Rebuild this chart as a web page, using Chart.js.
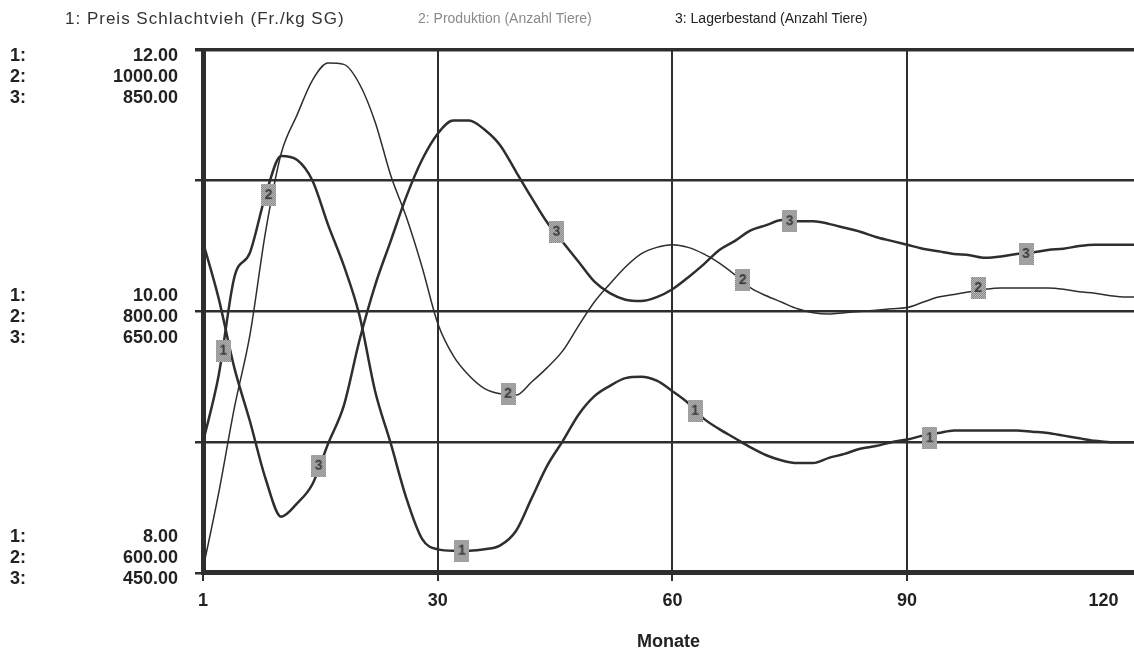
<!DOCTYPE html>
<html>
<head>
<meta charset="utf-8">
<script src="https://cdn.jsdelivr.net/npm/chart.js@4/dist/chart.umd.min.js"></script>
<style>
	body { margin: 0; background: #fff; overflow: hidden; }
	/* plot continues a little past the right edge of the picture */
	#wrap { width: 1142px; height: 653px; position: relative; }
</style>
</head>
<body>
<div id="wrap"><canvas id="myChart"></canvas></div>
<script>
// monthly readings (odd months + last month)
const months = [1,3,5,7,9,11,13,15,17,19,21,23,25,27,29,31,33,35,37,39,41,43,45,47,49,51,53,55,57,59,
	61,63,65,67,69,71,73,75,77,79,81,83,85,87,89,91,93,95,97,99,101,103,105,107,109,111,113,115,117,119,120];

// 1: Preis Schlachtvieh (Fr./kg SG)
const price = [9.00, 9.51, 10.26, 10.45, 10.89, 11.19, 11.16, 11.00, 10.66, 10.35,
	9.97, 9.39, 8.99, 8.57, 8.26, 8.18, 8.17, 8.17, 8.18, 8.21,
	8.32, 8.57, 8.82, 9.01, 9.21, 9.35, 9.43, 9.49, 9.50, 9.47,
	9.39, 9.30, 9.18, 9.10, 9.03, 8.96, 8.90, 8.86, 8.84, 8.84,
	8.88, 8.91, 8.95, 8.97, 9.00, 9.02, 9.05, 9.07, 9.09, 9.09,
	9.09, 9.09, 9.09, 9.08, 9.07, 9.05, 9.03, 9.01, 9.00, 9.00,
	9.00];

// 2: Produktion (Anzahl Tiere)
const production = [603, 661, 726, 782, 861, 921, 950, 977, 990, 989,
	974, 945, 904, 872, 834, 791, 766, 751, 741, 737,
	736, 746, 757, 770, 789, 807, 821, 834, 844, 849,
	851, 849, 844, 837, 828, 818, 812, 807, 802, 799,
	798, 799, 800, 801, 802, 803, 807, 811, 813, 815,
	817, 818, 818, 818, 818, 817, 815, 814, 812, 811,
	811];

// 3: Lagerbestand (Anzahl Tiere)
const stock = [703, 660, 607, 566, 522, 493, 503, 518, 549, 578,
	628, 670, 704, 738, 766, 786, 796, 796, 789, 777,
	757, 737, 718, 703, 688, 673, 664, 659, 658, 661,
	667, 676, 686, 697, 704, 712, 716, 720, 719, 719,
	717, 714, 711, 707, 704, 701, 698, 696, 694, 693,
	691, 692, 694, 695, 697, 698, 700, 701, 701, 701,
	701];

// curve number tags
const priceMarkX = [3.6, 34.1, 63.9, 93.9];
const priceMarkY = [9.70, 8.17, 9.24, 9.03];
const prodMarkX = [9.4, 40.0, 70.0, 100.1];
const prodMarkY = [889, 737, 824, 818];
const stockMarkX = [15.8, 46.2, 76.0, 106.2];
const stockMarkY = [532, 711, 719, 694];

const seriesNames = ['1: Preis Schlachtvieh (Fr./kg SG)', '2: Produktion (Anzahl Tiere)', '3: Lagerbestand (Anzahl Tiere)'];
const tickValues = [8, 10, 12];
const priceTicks = ['8.00', '10.00', '12.00'];
const prodTicks = ['600.00', '800.00', '1000.00'];
const stockTicks = ['450.00', '650.00', '850.00'];
const seriesPrefix = ['1:', '2:', '3:'];
const xTickPos = [1, 31, 61, 91, 116.1];
const xTickLabels = ['1', '30', '60', '90', '120'];

const FONT = '"Liberation Sans", Arial, sans-serif';
const INK = '#2e2e2e';

function pts(xs, ys){
	return xs.map((x, i) => ({x: x, y: ys[i]}));
}

// stella style: top block hangs below its tick, bottom block sits above
function block(v, lines){
	const i = tickValues.indexOf(v);
	if(i < 0) return '';
	const l = lines(i);
	if(i == 2) return ['', ''].concat(l);
	if(i == 0) return l.concat(['', '']);
	return l;
}

function marker(n){
	const c = document.createElement('canvas');
	c.width = 15;
	c.height = 22;
	const g = c.getContext('2d');
	for(let i = 0; i < c.width; i++){
		for(let j = 0; j < c.height; j++){
			g.fillStyle = (i + j) % 2 ? '#7c7c7c' : '#c6c6c6';
			g.fillRect(i, j, 1, 1);
		}
	}
	g.fillStyle = '#3a3a3a';
	g.font = 'bold 14px ' + FONT;
	g.textAlign = 'center';
	g.textBaseline = 'middle';
	g.fillText(n, 7.5, 11.5);
	return c;
}

const header = {
	id: 'header',
	afterDraw(chart){
		const ctx = chart.ctx;
		ctx.save();
		ctx.textBaseline = 'middle';
		ctx.textAlign = 'left';
		ctx.fillStyle = '#333';
		ctx.font = '17px ' + FONT;
		ctx.letterSpacing = '1px';
		ctx.fillText(seriesNames[0], 65, 19);
		ctx.letterSpacing = '0px';
		ctx.font = '14px ' + FONT;
		ctx.fillStyle = '#8a8a8a';
		ctx.fillText(seriesNames[1], 418, 19);
		ctx.fillStyle = '#222';
		ctx.fillText(seriesNames[2], 675, 19);
		ctx.restore();
	}
};

const tickFont = {family: FONT, size: 18, weight: 'bold', lineHeight: 1.17};

function line(label, data, axis, width){
	return {
		label: label,
		data: data,
		yAxisID: axis,
		borderColor: INK,
		borderWidth: width,
		pointRadius: 0,
		cubicInterpolationMode: 'monotone',
		fill: false
	};
}

function tags(data, axis, n){
	return {
		data: data,
		yAxisID: axis,
		showLine: false,
		pointStyle: marker(n),
		pointRadius: 7,
		order: -1
	};
}

function noSidePad(s){
	s.paddingLeft = 0;
	s.paddingRight = 0;
}

var ctx = document.getElementById('myChart').getContext('2d');
var myChart = new Chart(ctx, {
	type: 'line',
	data: {
		datasets: [
			line(seriesNames[0], pts(months, price), 'y', 2.5),
			line(seriesNames[1], pts(months, production), 'yProd', 1.5),
			line(seriesNames[2], pts(months, stock), 'yStock', 2.5),
			tags(pts(priceMarkX, priceMarkY), 'y', '1'),
			tags(pts(prodMarkX, prodMarkY), 'yProd', '2'),
			tags(pts(stockMarkX, stockMarkY), 'yStock', '3')
		]
	},
	options: {
		responsive: true,
		maintainAspectRatio: false,
		animation: false,
		layout: {padding: {top: 50, left: 10, right: 0, bottom: 0}},
		plugins: {
			legend: {display: false},
			tooltip: {enabled: false}
		},
		scales: {
			x: {
				type: 'linear',
				min: 1,
				max: 120,
				afterBuildTicks: s => { s.ticks = xTickPos.map(v => ({value: v})); },
				afterFit: noSidePad,
				ticks: {
					callback: (v, i) => xTickLabels[i],
					autoSkip: false,
					maxRotation: 0,
					padding: 9.5,
					color: '#222',
					font: tickFont
				},
				grid: {
					color: c => c.index === 4 ? 'rgba(0,0,0,0)' : INK,
					lineWidth: 2,
					tickLength: 8
				},
				border: {color: INK, width: 5},
				title: {
					display: true,
					text: 'Monate',
					color: '#222',
					font: tickFont,
					padding: {top: 11, bottom: 0}
				}
			},
			y: {
				position: 'left',
				weight: 0,
				min: 8,
				max: 12,
				ticks: {
					stepSize: 1,
					padding: 17,
					labelOffset: 6,
					color: '#222',
					font: tickFont,
					callback: v => block(v, i => [priceTicks[i], prodTicks[i], stockTicks[i]])
				},
				grid: {
					color: INK,
					lineWidth: c => c.tick && c.tick.value === 12 ? 3.5 : 2.5,
					tickLength: 8
				},
				border: {color: INK, width: 5},
				afterFit: s => { s.width = 90; s.paddingTop = 0; noSidePad(s); }
			},
			yp: {
				position: 'left',
				weight: 1,
				min: 8,
				max: 12,
				ticks: {
					stepSize: 1,
					crossAlign: 'far',
					labelOffset: 6,
					color: '#222',
					font: tickFont,
					callback: v => block(v, i => seriesPrefix)
				},
				grid: {display: false},
				border: {display: false},
				afterFit: s => { s.width = 103; s.paddingTop = 0; noSidePad(s); }
			},
			yProd: {display: false, min: 600, max: 1000},
			yStock: {display: false, min: 450, max: 850}
		}
	},
	plugins: [header]
});
</script>
</body>
</html>
